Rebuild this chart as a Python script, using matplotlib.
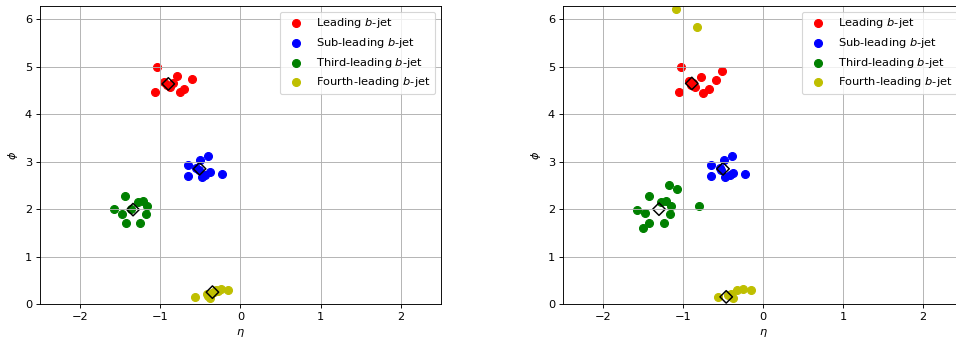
import numpy as np
import matplotlib.pyplot as plt

labels = ['Leading $b$-jet', 'Sub-leading $b$-jet', 'Third-leading $b$-jet', 'Fourth-leading $b$-jet']
colors = ['r', 'b', 'g', 'y']

# left panel: (eta, phi) of each jet
left_eta = [
    [-1.04, -0.79, -0.60, -1.06, -0.75, -0.70, -0.95, -0.88, -0.84, -0.92],
    [-0.66, -0.40, -0.50, -0.66, -0.48, -0.375, -0.225, -0.44, -0.56, -0.52],
    [-1.44, -1.58, -1.48, -1.43, -1.25, -1.28, -1.22, -1.17, -1.18, -1.36],
    [-0.57, -0.42, -0.38, -0.40, -0.33, -0.30, -0.24, -0.15, -0.36, -0.28],
]
left_phi = [
    [5.00, 4.80, 4.74, 4.46, 4.46, 4.54, 4.68, 4.58, 4.65, 4.62],
    [2.94, 3.11, 3.04, 2.70, 2.68, 2.78, 2.74, 2.73, 2.87, 2.83],
    [2.27, 2.00, 1.90, 1.70, 1.70, 2.16, 2.18, 2.06, 1.90, 2.00],
    [0.15, 0.22, 0.12, 0.17, 0.26, 0.30, 0.31, 0.29, 0.24, 0.28],
]
left_ref_eta = [-0.90, -0.51, -1.34, -0.35]
left_ref_phi = [4.64, 2.85, 1.99, 0.25]

# right panel
right_eta = [
    [-1.03, -0.51, -0.59, -0.78, -1.05, -0.75, -0.68, -0.93, -0.85, -0.90, -0.87],
    [-0.65, -0.39, -0.49, -0.65, -0.47, -0.37, -0.22, -0.41, -0.54, -0.52],
    [-1.18, -1.07, -1.43, -1.57, -1.47, -1.42, -1.50, -1.24, -1.27, -1.21, -1.15, -1.16, -0.80],
    [-0.56, -0.37, -0.40, -0.33, -0.25, -0.15, -0.44, -1.09, -0.83],
]
right_phi = [
    [4.99, 4.91, 4.73, 4.78, 4.46, 4.45, 4.54, 4.71, 4.57, 4.62, 4.66],
    [2.94, 3.13, 3.04, 2.70, 2.67, 2.77, 2.74, 2.73, 2.87, 2.82],
    [2.51, 2.43, 2.27, 1.99, 1.91, 1.70, 1.61, 1.70, 2.16, 2.18, 2.06, 1.90, 2.07],
    [0.14, 0.12, 0.21, 0.30, 0.31, 0.29, 0.18, 6.21, 5.84],
]
right_ref_eta = [-0.89, -0.50, -1.30, -0.46]
right_ref_phi = [4.65, 2.85, 2.00, 0.15]

dpi = 82
fig = plt.figure(figsize=(957/dpi, 344/dpi), dpi=dpi)
ax1 = fig.add_axes([40/957, 40/344, 401/957, 298/344])
ax2 = fig.add_axes([563/957, 40/344, 400/957, 298/344])

for ax, eta, phi, reta, rphi in [(ax1, left_eta, left_phi, left_ref_eta, left_ref_phi),
                                  (ax2, right_eta, right_phi, right_ref_eta, right_ref_phi)]:
    for i in range(4):
        ax.scatter(eta[i], phi[i], color=colors[i], s=48, label=labels[i])
    ax.scatter(reta, rphi, marker='D', facecolors='none', edgecolors='k', s=60, linewidths=1.3)
    ax.set_xlim(-2.5, 2.5)
    ax.set_ylim(0, 2*np.pi)
    ax.set_xlabel(r'$\eta$')
    ax.set_ylabel(r'$\phi$')
    ax.grid(True)
    ax.legend(loc='upper right')

fig.savefig('out.png', dpi=dpi)
